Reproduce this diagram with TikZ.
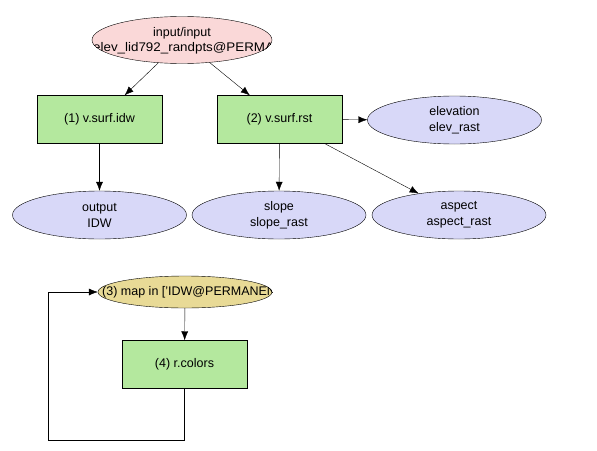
\documentclass[tikz,border=0pt]{standalone}
\usepackage{fontspec}
\setmainfont{Liberation Sans}
\usetikzlibrary{positioning,arrows.meta,shapes.geometric}
\definecolor{modgreen}{RGB}{180,232,158}
\definecolor{datablue}{RGB}{216,216,248}
\definecolor{inpink}{RGB}{250,216,216}
\definecolor{loopyellow}{RGB}{232,218,150}

\begin{document}
\begin{tikzpicture}[x=1pt,y=-1pt,font=\fontsize{12.5}{16}\selectfont]
 \tikzset{arrow/.style={-{Latex[length=9pt,width=7pt]}},
  module/.style={draw,fill=modgreen,minimum width=125pt,minimum height=48pt,inner sep=0pt},
  data/.style={draw,ellipse,fill=datablue,minimum width=174pt,minimum height=48pt,inner sep=0pt,align=center}}
 \useasboundingbox (0,0) rectangle (597,450);

 \node[draw,ellipse,fill=inpink,minimum width=180pt,minimum height=47pt] (inp) at (182,40) {};
 \begin{scope}
  \clip (182,40) ellipse (90 and 23.5);
  \node (inptop) at (182,33) {input/input};
  \node[anchor=west,inner sep=0pt,xscale=1.07] (inpbot) at (93,48) {elev\_lid792\_randpts@PERMANENT};
 \end{scope}

 \node[module] (idw) at (99.5,119.5) {(1) v.surf.idw};
 \node[module] (rst) at (279.5,119.5) {(2) v.surf.rst};
 \node[data] (elev) at (454.5,120) {elevation\\elev\_rast};
 \node[data] (out) at (99.5,215) {output\\IDW};
 \node[data] (slope) at (279,215) {slope\\slope\_rast};
 \node[data] (asp) at (459,215) {aspect\\aspect\_rast};

 \node[draw,ellipse,fill=loopyellow,minimum width=174pt,minimum height=32pt] (map) at (185,292) {};
 \begin{scope}
  \clip (185,292) ellipse (87 and 16);
  \node[anchor=west,inner sep=0pt] (maplabel) at (102,292) {(3) map in ['IDW@PERMANENT']};
 \end{scope}
 \node[module] (clr) at (184.5,364.5) {(4) r.colors};
 \coordinate (loopa) at (48,440);

 \draw[arrow] (inp) -- (idw);
 \draw[arrow] (inp) -- (rst);
 \draw[arrow] (idw) -- (out);
 \draw[arrow] (rst) -- (elev);
 \draw[arrow] (rst) -- (slope);
 \draw[arrow] (rst) -- (asp);
 \draw[arrow] (map) -- (clr);
 \draw[arrow] (clr.south) |- (loopa) |- (map.west);
\end{tikzpicture}
\end{document}
